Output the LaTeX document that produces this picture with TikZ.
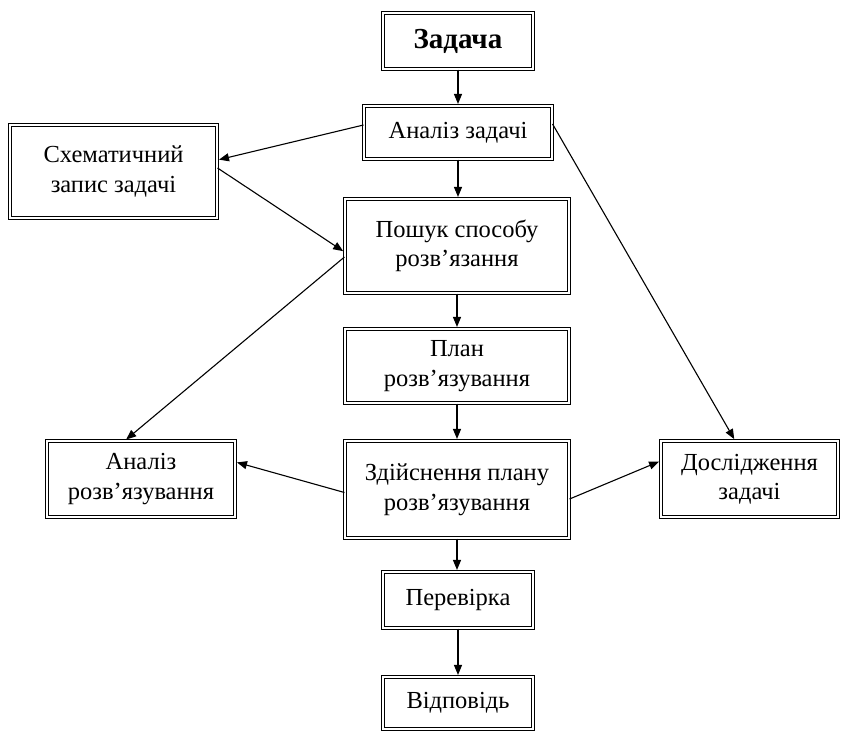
\documentclass[tikz,border=0pt]{standalone}
\usepackage{fontspec}
\setmainfont{Liberation Serif}
\usetikzlibrary{arrows.meta}
\begin{document}
\begin{tikzpicture}[x=1pt,y=-1pt,
  box/.style={draw=black, line width=1.1pt, double=white, double distance=1.8pt,
    fill=white, align=center, inner sep=2pt,
    font=\fontsize{24.5}{29.5}\selectfont},
  conn/.style={draw=black, line width=1.1pt, -{Triangle[length=10pt,width=8pt]}, shorten >=1.5pt}
]
\useasboundingbox[fill=white] (0,0) rectangle (843,734);

\node[box, minimum width=150pt, minimum height=56pt, font=\fontsize{29}{34}\selectfont\bfseries] (zad) at (458,41) {Задача};
\node[box, minimum width=188pt, minimum height=53pt] (an) at (458,132.5) {Аналіз задачі};
\node[box, minimum width=207pt, minimum height=93pt] (sch) at (113.5,171.5) {Схематичний\\запис задачі};
\node[box, minimum width=224pt, minimum height=94pt] (posh) at (457,246) {Пошук способу\\розв’язання};
\node[box, minimum width=224pt, minimum height=74pt] (plan) at (457,366) {План\\розв’язування};
\node[box, minimum width=224pt, minimum height=97pt] (zd) at (457,489.5) {Здійснення плану\\розв’язування};
\node[box, minimum width=188pt, minimum height=76pt] (anr) at (141,479) {Аналіз\\розв’язування};
\node[box, minimum width=177pt, minimum height=76pt] (dos) at (749.5,479) {Дослідження\\задачі};
\node[box, minimum width=150pt, minimum height=56pt] (per) at (458,600) {Перевірка};
\node[box, minimum width=150pt, minimum height=52pt] (vid) at (458,703) {Відповідь};

\draw[conn] (zad.south) -- (an.north);
\draw[conn] (an.south) -- (an.south |- posh.north);
\draw[conn] (posh.south) -- (posh.south |- plan.north);
\draw[conn] (plan.south) -- (plan.south |- zd.north);
\draw[conn] (zd.south) -- (zd.south |- per.north);
\draw[conn] (per.south) -- (vid.north);

\draw[conn] ([yshift=7.5pt]an.west) -- ([yshift=11.5pt]sch.east);
\draw[conn] ([yshift=3.5pt]sch.east) -- ([yshift=-6pt]posh.west);
\draw[conn] ([yshift=8.5pt]an.east) -- ([xshift=-14.5pt]dos.north);
\draw[conn] ([yshift=-11pt]posh.west) -- ([xshift=-16pt]anr.north);
\draw[conn] ([yshift=-3pt]zd.west) -- ([yshift=17pt]anr.east);
\draw[conn] ([yshift=-9.5pt]zd.east) -- ([yshift=18pt]dos.west);
\end{tikzpicture}
\end{document}
